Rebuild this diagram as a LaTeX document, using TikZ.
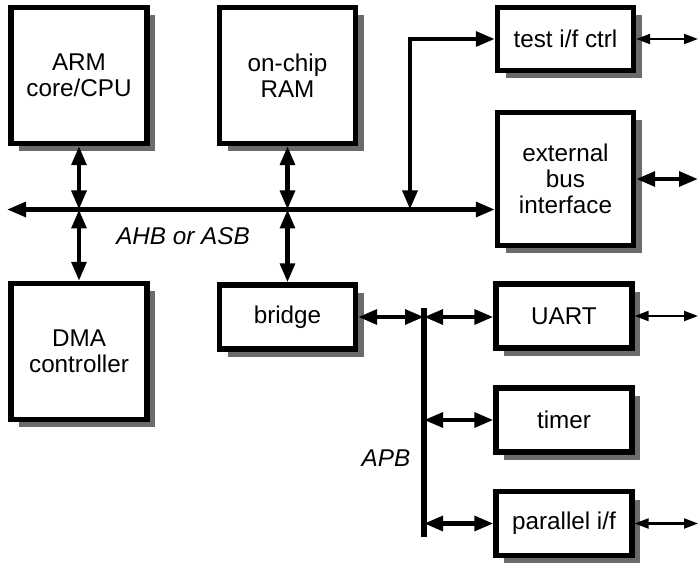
\documentclass[tikz,border=0pt]{standalone}
\usepackage{fontspec}
\setmainfont{Liberation Sans}
\usetikzlibrary{arrows.meta,shadows}

\begin{document}
\begin{tikzpicture}[font=\fontsize{13.8}{14.8}\selectfont,
  blk/.style={rectangle, draw, fill=white, line width=3pt, align=center,
              inner sep=2pt, minimum width=2.72cm,
              drop shadow={shadow xshift=0.16cm, shadow yshift=-0.16cm,
                           fill=black!58, opacity=1}},
  big/.style={blk, minimum height=2.72cm},
  small/.style={blk, minimum height=1.28cm},
  thk/.style={line width=2.5pt,
              {Triangle[length=0.38cm,width=0.29cm]}-{Triangle[length=0.38cm,width=0.29cm]}},
  thn/.style={line width=1.2pt,
              {Triangle[length=0.28cm,width=0.2cm]}-{Triangle[length=0.28cm,width=0.2cm]}},
  lbl/.style={font=\fontsize{13.8}{14.8}\selectfont\itshape}]
  \useasboundingbox (0,0) rectangle (13.96,-11.26);
  \node[big] (cpu) at (1.58,-1.51) {ARM\\core/CPU};
  \node[big] (ram) at (5.75,-1.51) {on-chip\\RAM};
  \node[big] (dma) at (1.58,-7.03) {DMA\\controller};
  \node[small] (brg) at (5.75,-6.34) {bridge};
  \node[small, minimum height=1.26cm] (tic) at (11.31,-0.78) {test i/f ctrl};
  \node[big, minimum height=2.66cm] (ebi) at (11.31,-3.58) {external\\bus\\interface};
  \node[small] (uart) at (11.28,-6.32) {UART};
  \node[small] (tmr) at (11.28,-8.40) {timer};
  \node[small] (par) at (11.28,-10.47) {parallel i/f};
  \coordinate (busL) at (0.14,-4.19);
  \coordinate (apbT) at (8.48,-6.16);
  \coordinate (apbB) at (8.48,-10.74);
  \coordinate (rim) at (13.96,0);
  % AHB / ASB
  \draw[thk] (busL) -- (busL -| ebi.west);
  \draw[thk] (cpu.south) -- (cpu.south |- busL);
  \draw[thk] (cpu.south |- busL) -- (dma.north);
  \draw[thk] (ram.south) -- (ram.south |- busL);
  \draw[thk] (ram.south |- busL) -- (brg.north);
  \draw[thk] (busL -| 8.2,0) |- (tic.west);
  \node[lbl] (ahb) at (3.66,-4.72) {AHB or ASB};
  % APB
  \draw[line width=3.2pt] (apbT) -- (apbB);
  \draw[thk] (brg.east) -- (brg.east -| apbT);
  \draw[thk] (brg.east -| apbT) -- (uart.west |- brg.east);
  \draw[thk] (tmr.west -| apbT) -- (tmr.west);
  \draw[thk] (par.west -| apbT) -- (par.west);
  \node[lbl] (apb) at (7.72,-9.16) {APB};
  % off-chip
  \draw[thn] (tic.east) -- (tic.east -| rim);
  \draw[thk] (ebi.east) -- (ebi.east -| rim);
  \draw[thn] (uart.east) -- (uart.east -| rim);
  \draw[thn] (par.east) -- (par.east -| rim);
\end{tikzpicture}
\end{document}
